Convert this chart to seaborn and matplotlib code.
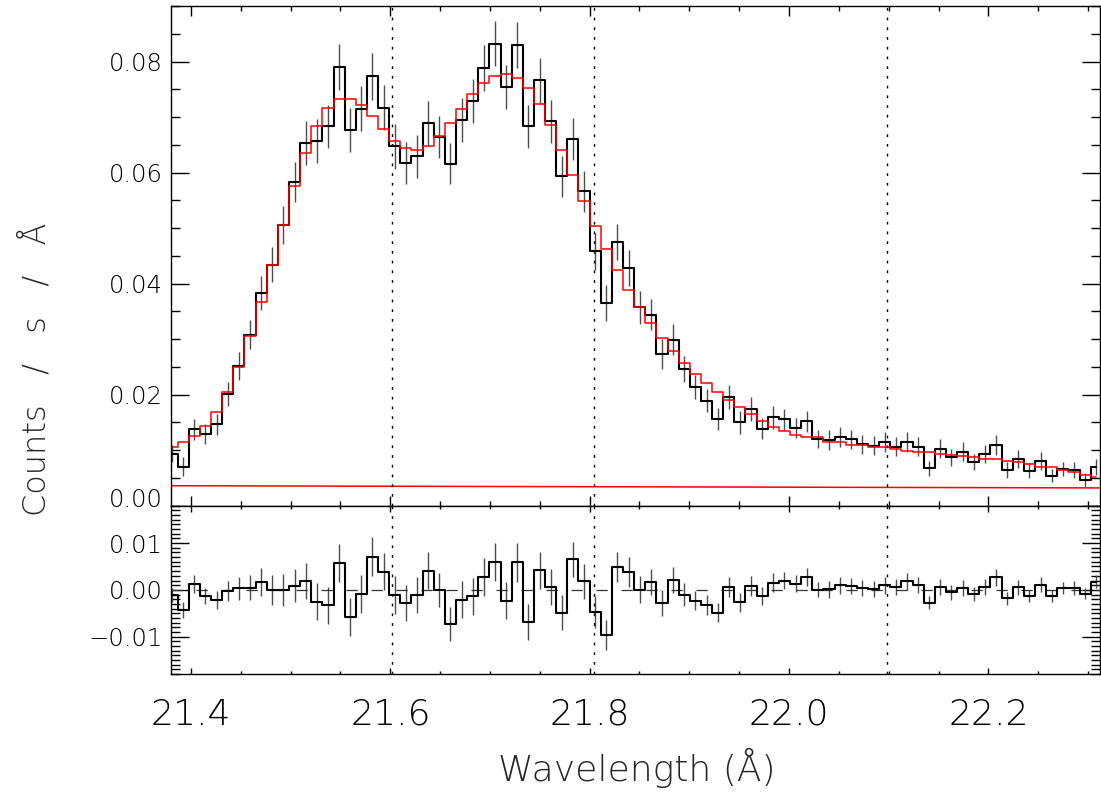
import numpy as np
import matplotlib
matplotlib.use("Agg")
import matplotlib.pyplot as plt
import matplotlib.transforms as mtransforms
from matplotlib.ticker import FixedLocator, MultipleLocator
import seaborn as sns

# wavelength grid of the spectrum (bin centre of the first bin, bin width)
lam_start = 21.3811
bin_width = 0.01117

# observed spectrum (counts / s / A)
flux = [0.0094, 0.0070, 0.0138, 0.0130, 0.0147, 0.0201, 0.0252, 0.0308, 0.0383, 0.0434,
        0.0506, 0.0583, 0.0653, 0.0657, 0.0683, 0.0790, 0.0677, 0.0715, 0.0773, 0.0717,
        0.0647, 0.0617, 0.0629, 0.0689, 0.0664, 0.0616, 0.0695, 0.0729, 0.0788, 0.0832,
        0.0754, 0.0830, 0.0683, 0.0766, 0.0692, 0.0593, 0.0660, 0.0566, 0.0458, 0.0365,
        0.0475, 0.0428, 0.0357, 0.0344, 0.0273, 0.0299, 0.0246, 0.0214, 0.0189, 0.0156,
        0.0196, 0.0150, 0.0174, 0.0139, 0.0159, 0.0156, 0.0140, 0.0152, 0.0120, 0.0118,
        0.0124, 0.0120, 0.0111, 0.0108, 0.0114, 0.0106, 0.0115, 0.0106, 0.0067, 0.0103,
        0.0087, 0.0097, 0.0079, 0.0093, 0.0109, 0.0064, 0.0084, 0.0063, 0.0081, 0.0054,
        0.0066, 0.0064, 0.0046, 0.0070]

# best-fit model
model = [0.0106, 0.0114, 0.0126, 0.0144, 0.0169, 0.0204, 0.0249, 0.0305, 0.0366, 0.0434,
         0.0506, 0.0575, 0.0635, 0.0683, 0.0716, 0.0733, 0.0733, 0.0722, 0.0701, 0.0679,
         0.0657, 0.0644, 0.0640, 0.0648, 0.0665, 0.0689, 0.0715, 0.0741, 0.0761, 0.0774,
         0.0778, 0.0770, 0.0752, 0.0724, 0.0686, 0.0641, 0.0595, 0.0549, 0.0503, 0.0462,
         0.0425, 0.0389, 0.0357, 0.0329, 0.0302, 0.0278, 0.0257, 0.0237, 0.0221, 0.0204,
         0.0191, 0.0177, 0.0165, 0.0153, 0.0142, 0.0135, 0.0127, 0.0124, 0.0123, 0.0115,
         0.0114, 0.0109, 0.0110, 0.0106, 0.0105, 0.0102, 0.0099, 0.0097, 0.0096, 0.0094,
         0.0091, 0.0090, 0.0087, 0.0085, 0.0084, 0.0081, 0.0078, 0.0075, 0.0070, 0.0069,
         0.0064, 0.0060, 0.0055, 0.0052]

# 1-sigma errors
err = [0.0015, 0.0017, 0.0019, 0.0018, 0.0019, 0.0021, 0.0025, 0.0026, 0.0030, 0.0032,
       0.0034, 0.0036, 0.0039, 0.0040, 0.0039, 0.0041, 0.0040, 0.0041, 0.0042, 0.0040,
       0.0040, 0.0038, 0.0038, 0.0039, 0.0037, 0.0037, 0.0040, 0.0039, 0.0041, 0.0041,
       0.0040, 0.0042, 0.0039, 0.0040, 0.0039, 0.0037, 0.0038, 0.0037, 0.0034, 0.0032,
       0.0033, 0.0032, 0.0029, 0.0028, 0.0027, 0.0028, 0.0024, 0.0021, 0.0021, 0.0020,
       0.0022, 0.0021, 0.0021, 0.0019, 0.0020, 0.0019, 0.0018, 0.0019, 0.0016, 0.0018,
       0.0018, 0.0017, 0.0017, 0.0017, 0.0018, 0.0017, 0.0018, 0.0017, 0.0014, 0.0017,
       0.0016, 0.0017, 0.0015, 0.0017, 0.0018, 0.0014, 0.0016, 0.0013, 0.0016, 0.0012,
       0.0013, 0.0015, 0.0012, 0.0014]

# residuals (data - model)
resid = [-0.0011, -0.0044, 0.0012, -0.0013, -0.0021, -0.0003, 0.0003, 0.0005, 0.0017, -0.0001,
         0.0000, 0.0009, 0.0019, -0.0025, -0.0033, 0.0058, -0.0058, -0.0009, 0.0071, 0.0039,
         -0.0011, -0.0028, -0.0011, 0.0041, 0.0000, -0.0073, -0.0021, -0.0014, 0.0027, 0.0059,
         -0.0023, 0.0059, -0.0069, 0.0042, 0.0006, -0.0049, 0.0065, 0.0018, -0.0048, -0.0097,
         0.0049, 0.0039, 0.0000, 0.0016, -0.0028, 0.0021, -0.0010, -0.0023, -0.0032, -0.0049,
         0.0006, -0.0027, 0.0008, -0.0013, 0.0015, 0.0020, 0.0013, 0.0028, 0.0000, 0.0001,
         0.0010, 0.0008, 0.0004, 0.0001, 0.0010, 0.0006, 0.0018, 0.0010, -0.0028, 0.0007,
         -0.0005, 0.0004, -0.0009, 0.0007, 0.0027, -0.0018, 0.0006, -0.0013, 0.0011, -0.0013,
         0.0004, 0.0005, -0.0008, 0.0017]

# continuum level
bkg_lam = [21.380, 22.312]
bkg = [0.0036, 0.0032]

# O VII triplet line positions
line_lam = [21.602, 21.804, 22.098]

lam = lam_start + bin_width * np.arange(len(flux))

sns.set_style("ticks")
plt.rcParams["font.family"] = ["DejaVu Sans"]
plt.rcParams["font.weight"] = "light"
plt.rcParams["axes.linewidth"] = 1.0
plt.rcParams["axes.edgecolor"] = "black"

fig = plt.figure(figsize=(11.01, 7.97), dpi=100)
ax1 = fig.add_axes([0.1553, 0.3655, 0.8438, 0.627])
ax2 = fig.add_axes([0.1553, 0.1543, 0.8438, 0.2112], sharex=ax1)

flux = np.array(flux)
model = np.array(model)
err = np.array(err)
resid = np.array(resid)

# top panel: spectrum + model
ax1.vlines(lam, flux - err, flux + err, color="0.3", lw=1.0)
sns.lineplot(x=lam, y=flux, ax=ax1, color="black", lw=1.5, drawstyle="steps-mid",
             estimator=None, sort=False)
sns.lineplot(x=lam, y=model, ax=ax1, color="red", lw=1.1, drawstyle="steps-mid",
             estimator=None, sort=False)
sns.lineplot(x=bkg_lam, y=bkg, ax=ax1, color="red", lw=1.1, estimator=None, sort=False)

# bottom panel: residuals
ax2.vlines(lam, resid - err, resid + err, color="0.3", lw=1.0)
ax2.axhline(0, color="0.2", lw=0.9, dashes=(9, 11))
sns.lineplot(x=lam, y=resid, ax=ax2, color="black", lw=1.5, drawstyle="steps-mid",
             estimator=None, sort=False)

for ax in (ax1, ax2):
    for lv in line_lam:
        ax.axvline(lv, color="black", lw=1.0, dashes=(2, 5))
    ax.set_xlim(21.380, 22.312)
    ax.xaxis.set_major_locator(MultipleLocator(0.2))
    ax.xaxis.set_minor_locator(MultipleLocator(0.05))
    ax.tick_params(which="both", direction="in", top=True, right=True,
                   colors="black", width=1.0)
    ax.set_xlabel("")
    ax.set_ylabel("")

ax1.set_ylim(0, 0.09)
ax1.yaxis.set_major_locator(FixedLocator([0.0, 0.02, 0.04, 0.06, 0.08]))
ax1.yaxis.set_minor_locator(MultipleLocator(0.005))
ax1.yaxis.set_major_formatter(plt.FormatStrFormatter("%.2f"))
ax1.tick_params(axis="x", which="major", length=7, labelbottom=False)
ax1.tick_params(axis="x", which="minor", length=3.6)
ax1.tick_params(axis="y", which="major", length=13, labelsize=17.5, pad=6)
ax1.tick_params(axis="y", which="minor", length=6.5)

ax2.set_ylim(-0.018, 0.018)
ax2.yaxis.set_major_locator(FixedLocator([-0.01, 0.0, 0.01]))
ax2.yaxis.set_minor_locator(MultipleLocator(0.001))
ax2.set_yticklabels(["\u22120.01", "0.00", "0.01"])
ax2.tick_params(axis="x", which="major", length=4.5, labelsize=26, pad=17)
ax2.tick_params(axis="x", which="minor", length=2.5)
ax2.tick_params(axis="y", which="major", length=13, labelsize=17.5, pad=6)
ax2.tick_params(axis="y", which="minor", length=6.5)

# lift the 0.00 label of the upper panel off the panel boundary
lab0 = ax1.yaxis.get_major_ticks()[0].label1
lab0.set_transform(lab0.get_transform() +
                   mtransforms.ScaledTranslation(0, 0.08, fig.dpi_scale_trans))

fig.text(0.0318, 0.537, "Counts   /   s   /   \u00c5", rotation=90, ha="center",
         va="center", fontsize=23, fontweight="light")
fig.text(0.578, 0.036, "Wavelength (\u00c5)", ha="center", va="center",
         fontsize=26, fontweight="light")

fig.savefig("out.png", dpi=100)
